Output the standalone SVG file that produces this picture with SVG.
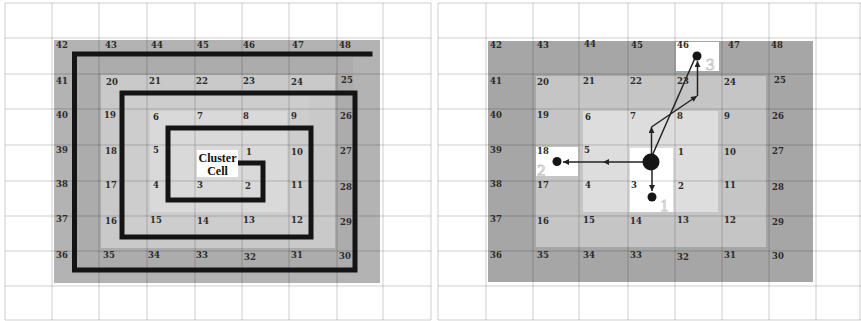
<svg xmlns="http://www.w3.org/2000/svg" width="861" height="321" viewBox="0 0 861 321">
<defs>
<style>
.n{font-family:"DejaVu Serif","Liberation Serif",serif;font-weight:bold;font-size:8.5px;fill:#2a2a2a}
.g{stroke:#000;stroke-opacity:0.13;stroke-width:1.5;fill:none}
.sp{fill:none;stroke:#141414;stroke-width:5;stroke-linejoin:miter}
.cn{fill:none;stroke:#222;stroke-width:1.5}
.ol{font-family:"Liberation Serif",serif;font-size:17px;fill:#fafafa;stroke:#c4c4c4;stroke-width:0.8}
.cl{font-family:"Liberation Serif",serif;font-weight:bold;font-size:12px;fill:#111;text-anchor:middle}
</style>
<marker id="ah" viewBox="0 0 10 10" refX="10" refY="5" markerWidth="7" markerHeight="6" markerUnits="userSpaceOnUse" orient="auto">
<path d="M0 0 L10 5 L0 10 Z" fill="#222"/>
</marker>
</defs>
<rect width="861" height="321" fill="#fff"/>

<g id="left-panel">
<rect x="54" y="40" width="326" height="243" fill="#b3b3b3"/>
<rect x="77" y="57" width="276" height="211" fill="#acacac"/>
<rect x="101" y="75" width="234" height="173" fill="#c9c9c9"/>
<rect x="124" y="95" width="185" height="140" fill="#cdcdcd"/>
<rect x="150" y="111" width="137" height="101" fill="#d9d9d9"/>
</g>

<g id="right-panel">
<rect x="488" y="41" width="325" height="241" fill="#a6a6a6"/>
<rect x="536" y="76" width="230" height="171" fill="#c5c5c5"/>
<rect x="583" y="111" width="135" height="101" fill="#dddddd"/>
<rect x="536" y="147" width="42" height="29" fill="#fff"/>
<rect x="676" y="42" width="43" height="29" fill="#fff"/>
<rect x="630" y="148" width="43" height="64" fill="#fff"/>
</g>

<g id="grid-left" class="g">
<path d="M5 3V320M52 3V320M99 3V320M147 3V320M195 3V320M242 3V320M289 3V320M337 3V320M383 3V320M431 3V320"/>
<path d="M5 3H431M5 38H431M5 74H431M5 109H431M5 145H431M5 181H431M5 216H431M5 251H431M5 286H431M5 320H431"/>
</g>
<g id="grid-right" class="g">
<path d="M438 3V320M486 3V320M533 3V320M579 3V320M628 3V320M675 3V320M722 3V320M769 3V320M816 3V320M860 3V320"/>
<path d="M438 3H861M438 38H861M438 74H861M438 109H861M438 145H861M438 181H861M438 216H861M438 251H861M438 286H861M438 320H861"/>
</g>

<g id="labels-left" class="n">
<text x="56" y="48">42</text><text x="105" y="48">43</text><text x="151" y="48">44</text><text x="197" y="48">45</text><text x="243" y="48">46</text><text x="292" y="48">47</text><text x="339" y="48">48</text>
<text x="56" y="84">41</text><text x="106" y="85">20</text><text x="149" y="84">21</text><text x="196" y="84">22</text><text x="243" y="84">23</text><text x="291" y="85">24</text><text x="341" y="83">25</text>
<text x="56" y="118">40</text><text x="104" y="118">19</text><text x="153" y="120">6</text><text x="197" y="119">7</text><text x="243" y="119">8</text><text x="291" y="119">9</text><text x="340" y="119">26</text>
<text x="56" y="153">39</text><text x="105" y="154">18</text><text x="153" y="153">5</text><text x="246" y="155">1</text><text x="291" y="155">10</text><text x="340" y="154">27</text>
<text x="56" y="187">38</text><text x="105" y="188">17</text><text x="153" y="188">4</text><text x="197" y="188">3</text><text x="245" y="189">2</text><text x="291" y="188">11</text><text x="340" y="190">28</text>
<text x="56" y="222">37</text><text x="105" y="224">16</text><text x="150" y="223">15</text><text x="197" y="224">14</text><text x="243" y="223">13</text><text x="291" y="223">12</text><text x="340" y="225">29</text>
<text x="56" y="258">36</text><text x="103" y="258">35</text><text x="148" y="258">34</text><text x="196" y="258">33</text><text x="244" y="260">32</text><text x="291" y="258">31</text><text x="339" y="259">30</text>
</g>

<g id="labels-right" class="n">
<text x="490" y="48">42</text><text x="537" y="48">43</text><text x="584" y="47">44</text><text x="631" y="48">45</text><text x="677" y="48">46</text><text x="728" y="48">47</text><text x="771" y="48">48</text>
<text x="490" y="84">41</text><text x="537" y="85">20</text><text x="583" y="84">21</text><text x="630" y="84">22</text><text x="677" y="84">23</text><text x="724" y="85">24</text><text x="774" y="83">25</text>
<text x="490" y="118">40</text><text x="537" y="118">19</text><text x="585" y="120">6</text><text x="630" y="119">7</text><text x="677" y="119">8</text><text x="724" y="119">9</text><text x="772" y="119">26</text>
<text x="490" y="153">39</text><text x="537" y="154">18</text><text x="584" y="153">5</text><text x="678" y="155">1</text><text x="724" y="155">10</text><text x="772" y="154">27</text>
<text x="490" y="187">38</text><text x="537" y="188">17</text><text x="585" y="188">4</text><text x="631" y="188">3</text><text x="678" y="189">2</text><text x="724" y="188">11</text><text x="772" y="190">28</text>
<text x="490" y="222">37</text><text x="537" y="224">16</text><text x="583" y="223">15</text><text x="630" y="224">14</text><text x="677" y="223">13</text><text x="724" y="223">12</text><text x="772" y="225">29</text>
<text x="490" y="258">36</text><text x="537" y="258">35</text><text x="583" y="258">34</text><text x="630" y="258">33</text><text x="677" y="260">32</text><text x="724" y="258">31</text><text x="772" y="259">30</text>
</g>

<g id="spiral">
<path class="sp" d="M237 163H263V200H168V128H311V237H122V93H355V270H74.5V54H372.5"/>
</g>

<g id="cluster-cell-left">
<rect x="197" y="150" width="41" height="27" fill="#fff"/>
<text class="cl" x="217.5" y="161.5">Cluster</text>
<text class="cl" x="217.5" y="174.5">Cell</text>
</g>

<g id="connectors">
<line class="cn" x1="643" y1="162" x2="603" y2="162" marker-end="url(#ah)"/>
<line class="cn" x1="603" y1="162" x2="563" y2="162" marker-end="url(#ah)"/>
<line class="cn" x1="652" y1="168" x2="652" y2="191" marker-end="url(#ah)"/>
<line class="cn" x1="651.5" y1="155" x2="651.5" y2="127" marker-end="url(#ah)"/>
<line class="cn" x1="651.5" y1="127" x2="697" y2="96" marker-end="url(#ah)"/>
<line class="cn" x1="697.5" y1="96" x2="697.5" y2="61" marker-end="url(#ah)"/>
<line class="cn" x1="652" y1="156" x2="695" y2="58"/>
</g>

<g id="node-cluster"><circle cx="651" cy="162" r="8.5" fill="#161616"/></g>
<g id="node-1"><circle cx="652" cy="197" r="4.5" fill="#161616"/><text class="ol" x="660" y="211">1</text></g>
<g id="node-2"><circle cx="557" cy="161.5" r="4.5" fill="#161616"/><text class="ol" x="537" y="176">2</text></g>
<g id="node-3"><circle cx="697" cy="56" r="4.5" fill="#161616"/><text class="ol" x="706" y="70">3</text></g>
</svg>
